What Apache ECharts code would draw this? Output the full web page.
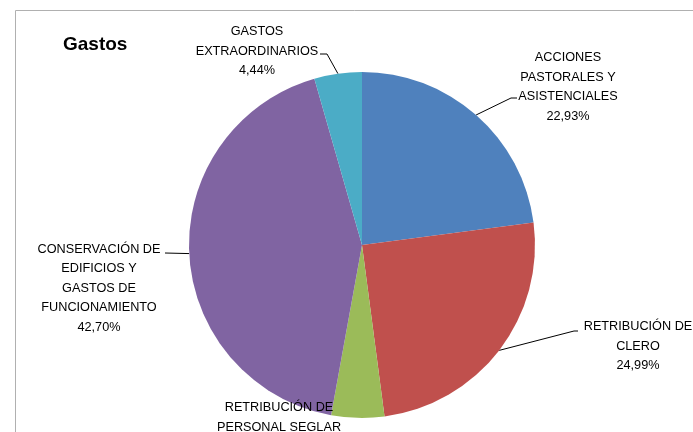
<!DOCTYPE html>
<html lang="es">
<head>
    <meta charset="UTF-8">
    <title>Gastos</title>
    <script src="https://cdn.jsdelivr.net/npm/echarts@6/dist/echarts.min.js"></script>
    <style>
        *{
            margin:0;
            padding:0;
        }
        #main {
            width: 693px;
            height: 432px;
            background: #fff;
        }
    </style>
</head>
<body>
<div id="main"></div>
<script>
    // datos del grafico
    var categorias = [
        'ACCIONES\nPASTORALES Y\nASISTENCIALES',
        'RETRIBUCIÓN DE\nCLERO',
        'RETRIBUCIÓN DE\nPERSONAL SEGLAR',
        'CONSERVACIÓN DE\nEDIFICIOS Y\nGASTOS DE\nFUNCIONAMIENTO',
        'GASTOS\nEXTRAORDINARIOS'
    ];
    var porcentajes = [22.93, 24.99, 4.94, 42.70, 4.44];

    var colores = ['#4f81bd', '#c0504d', '#9bbb59', '#8064a2', '#4bacc6'];
    // centro de cada etiqueta (solo maquetacion)
    var posEtiquetas = [[568, 87], [638, 346], [279, 427], [99, 288], [257, 51]];
    // punto donde la linea guia toca el texto, y tramo horizontal (null = sin linea)
    var finLinea = [[517, 98, -6], [578, 331, -4], null, [165, 253, 0], [320, 54, 7]];

    var datos = [];
    for (var i = 0; i < categorias.length; i++) {
        datos.push({
            name: categorias[i],
            value: porcentajes[i],
            labelLine: { show: finLinea[i] !== null }
        });
    }

    var chart = echarts.init(document.getElementById('main'));

    var option = {
        animation: false,
        color: colores,
        title: {
            text: 'Gastos',
            left: 58,
            top: 30,
            textStyle: {
                fontFamily: 'Liberation Sans',
                fontSize: 19,
                fontWeight: 'bold',
                color: '#000'
            }
        },
        graphic: [{
            type: 'rect',
            shape: { x: 15.5, y: 10.5, width: 720, height: 460 },
            style: { fill: 'none', stroke: '#b0b0b0', lineWidth: 1 },
            silent: true
        }],
        series: [{
            type: 'pie',
            center: [362, 245],
            radius: 173,
            startAngle: 90,
            clockwise: true,
            data: datos,
            itemStyle: { borderWidth: 0 },
            label: {
                show: true,
                fontFamily: 'Liberation Sans',
                fontSize: 12.7,
                lineHeight: 19.5,
                color: '#000',
                align: 'center',
                formatter: function (p) {
                    return p.name + '\n' + p.value.toFixed(2).replace('.', ',') + '%';
                }
            },
            labelLine: {
                show: true,
                length: 10,
                length2: 10,
                lineStyle: { color: '#000', width: 1 }
            },
            labelLayout: function (params) {
                var pos = posEtiquetas[params.dataIndex];
                var res = {
                    x: pos[0],
                    y: pos[1],
                    align: 'center',
                    verticalAlign: 'middle'
                };
                var fin = finLinea[params.dataIndex];
                if (fin && params.labelLinePoints) {
                    var ancla = params.labelLinePoints[0];
                    res.labelLinePoints = [
                        [ancla[0], ancla[1]],
                        [fin[0] + fin[2], fin[1]],
                        [fin[0], fin[1]]
                    ];
                }
                return res;
            }
        }]
    };

    chart.setOption(option);
</script>
</body>
</html>
